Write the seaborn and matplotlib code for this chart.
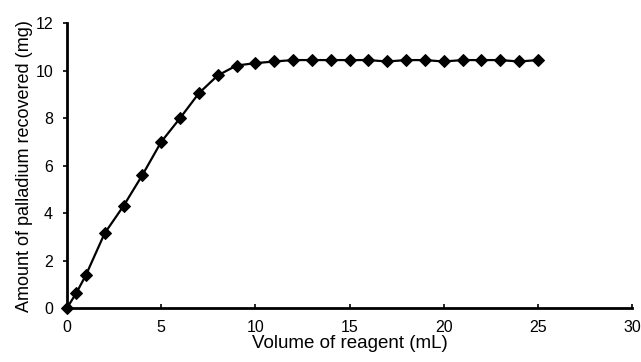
import matplotlib
matplotlib.use("Agg")
import matplotlib.pyplot as plt
import seaborn as sns
import pandas as pd

volume = [0, 0.5, 1, 2, 3, 4, 5, 6, 7, 8, 9, 10, 11, 12, 13, 14, 15, 16, 17, 18, 19, 20, 21, 22, 23, 24, 25]
palladium = [0, 0.64, 1.38, 3.15, 4.3, 5.6, 7.0, 8.0, 9.05, 9.8, 10.22, 10.32, 10.39, 10.45, 10.45, 10.45,
             10.45, 10.45, 10.39, 10.45, 10.45, 10.39, 10.45, 10.45, 10.45, 10.39, 10.45]
xticks = [0, 5, 10, 15, 20, 25, 30]
yticks = [0, 2, 4, 6, 8, 10, 12]

df = pd.DataFrame({"Volume": volume, "Pd": palladium})

sns.set_theme(style="white")
plt.rcParams["font.family"] = ["Liberation Sans", "DejaVu Sans"]

fig = plt.figure(figsize=(6.41, 3.62), dpi=100)
ax = fig.add_axes([67 / 641, 1 - 308 / 362, (632 - 67) / 641, (308 - 23.3) / 362])

sns.lineplot(data=df, x="Volume", y="Pd", ax=ax, color="black", linewidth=1.6,
             marker="D", markersize=6, markeredgecolor="black", markerfacecolor="black",
             clip_on=False)

ax.set_xlim(0, 30)
ax.set_ylim(0, 12)
ax.set_xticks(xticks)
ax.set_yticks(yticks)
ax.set_xticklabels([str(t) for t in xticks])
ax.set_yticklabels([str(t) for t in yticks])
ax.tick_params(axis="x", direction="in", length=3, width=1.2, labelsize=11.5,
               colors="black", pad=9, bottom=True)
ax.tick_params(axis="y", direction="out", length=3, width=1.2, labelsize=11.5,
               colors="black", pad=7, left=True)
for side in ["top", "right"]:
    ax.spines[side].set_visible(False)
for side in ["left", "bottom"]:
    ax.spines[side].set_linewidth(2)
    ax.spines[side].set_color("black")

ax.set_xlabel("Volume of reagent (mL)", fontsize=13.5, color="black", labelpad=0)
ax.set_ylabel("Amount of palladium recovered (mg)", fontsize=13, color="black", labelpad=2)
ax.grid(False)

fig.savefig("out.png", dpi=100, facecolor="white")
